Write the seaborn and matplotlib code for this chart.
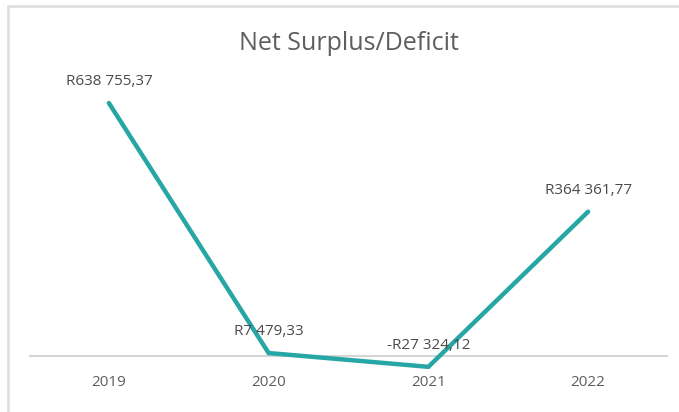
import matplotlib
matplotlib.use("Agg")
import matplotlib.pyplot as plt
import seaborn as sns
import pandas as pd
from matplotlib.patches import Rectangle

years = ["2019", "2020", "2021", "2022"]
values = [638755.37, 7479.33, -27324.12, 364361.77]
labels = ["R638 755,37", "R7 479,33", "-R27 324,12", "R364 361,77"]

df = pd.DataFrame({"year": years, "value": values})

sns.set_theme(style="white")
plt.rcParams['font.family'] = ['Open Sans', 'DejaVu Sans']

W, H = 679, 412
fig = plt.figure(figsize=(W / 100, H / 100), dpi=100)

# axes placement in pixel terms
ax_left, ax_right = 29, 668
ax_top, ax_bottom = 80, 372
ax = fig.add_axes([ax_left / W, 1 - ax_bottom / H, (ax_right - ax_left) / W, (ax_bottom - ax_top) / H])

sns.lineplot(data=df, x="year", y="value", ax=ax, color="#26A6A4", linewidth=3.2,
             sort=False, solid_joinstyle="miter")

k = 253 / 638755.37
ax.set_ylim(-(ax_bottom - 356) / k, (356 - ax_top) / k)
ax.set_xlim(-0.5, 3.5)

ax.axhline(0, color="#D6D6D6", linewidth=1.5, zorder=0)

for i, (v, t) in enumerate(zip(values, labels)):
    ax.annotate(t, (i, v), xytext=(0, 10), textcoords="offset points",
                ha="center", va="bottom", fontsize=11, color="#4A4A4A")

for s in ax.spines.values():
    s.set_visible(False)
ax.set_yticks([])
ax.set_xlabel("")
ax.set_ylabel("")
ax.tick_params(axis="x", length=0, pad=2, labelsize=11, labelcolor="#605E5C")

fig.text(349 / W, 1 - 43 / H, "Net Surplus/Deficit", ha="center", va="center",
         fontsize=18, color="#605E5C")

# frame border
fig.patches.append(Rectangle((7.5 / W, -0.1), 1.2, 1 - 6 / H + 0.1, transform=fig.transFigure,
                             fill=False, edgecolor="#DDDDDD", linewidth=1.8))

fig.savefig("out.png", dpi=100)
